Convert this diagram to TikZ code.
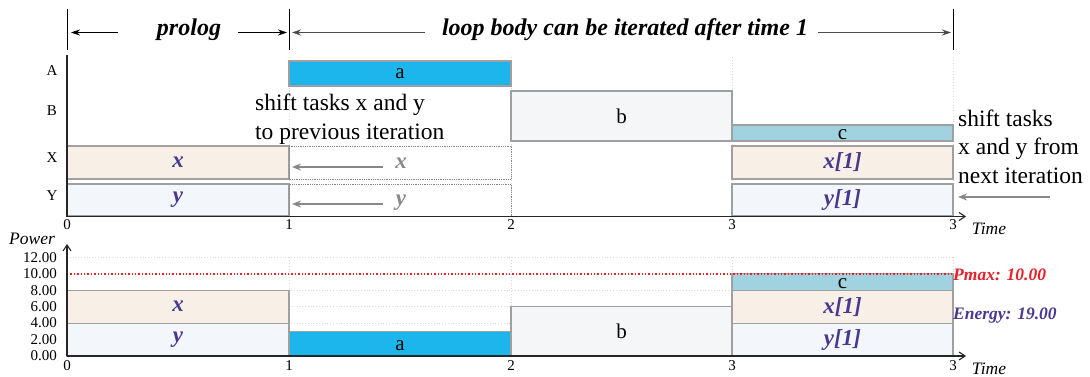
\documentclass[tikz,border=0pt]{standalone}
\usepackage{fontspec}
\setmainfont{Liberation Serif}
\usetikzlibrary{arrows.meta}
\definecolor{cA}{HTML}{1DB6EC}
\definecolor{cB}{HTML}{F5F6F8}
\definecolor{cC}{HTML}{A0D3DF}
\definecolor{cX}{HTML}{F8EFE6}
\definecolor{cY}{HTML}{F3F7FB}
\definecolor{edge}{HTML}{A0A0A0}
\definecolor{ink}{HTML}{4A3890}
\definecolor{shadow}{HTML}{888888}
\definecolor{pmaxred}{HTML}{E8202A}
\tikzset{
  taskbox/.style={draw=edge, line width=1.1pt},
  ghost/.style={draw=shadow, densely dotted, line width=0.8pt},
  grid line/.style={draw=black!15, dotted, line width=0.8pt},
  axis/.style={draw=black!85, line width=1.1pt},
  tick label/.style={font=\fontsize{15}{15}\selectfont, inner sep=0pt},
  row label/.style={font=\fontsize{15}{15}\selectfont, inner sep=0pt},
  axis title/.style={font=\fontsize{17.5}{17.5}\selectfont\itshape, inner sep=0pt},
  var label/.style={font=\fontsize{23}{23}\selectfont\bfseries\itshape, text=ink},
  task label/.style={font=\fontsize{21}{21}\selectfont},
  note/.style={font=\fontsize{23.5}{29}\selectfont, align=left, inner sep=0pt},
  span arrow/.style={-{Stealth[length=9pt,width=6pt]}, line width=0.9pt},
  shift arrow/.style={-{Stealth[length=9pt,width=7pt]}, draw=shadow, line width=1.8pt},
  head/.style={font=\fontsize{24}{24}\selectfont\bfseries\itshape},
  side label/.style={anchor=west, inner sep=0pt, font=\fontsize{17.5}{17.5}\selectfont\bfseries\itshape},
}
\begin{document}
\begin{tikzpicture}[x=1pt,y=-1pt]
\useasboundingbox (0,0) rectangle (1090,377);

% ---------- phase markers ----------
\foreach \xx in {67,289,953} \draw[line width=1pt] (\xx,9) -- (\xx,50);
\node[head] (prolog) at (189,30) {prolog};
\node[head] (loop) at (625,30) {loop body can be iterated after time 1};
\coordinate (p0) at (118,32.5); \coordinate (p1) at (71,32.5);
\coordinate (p2) at (238,32.5); \coordinate (p3) at (287,32.5);
\coordinate (l0) at (425,32.5); \coordinate (l1) at (292,32.5);
\coordinate (l2) at (818,32.5); \coordinate (l3) at (951,32.5);
\draw[span arrow] (p0) -- (p1);
\draw[span arrow] (p2) -- (p3);
\draw[span arrow, draw=black!70] (l0) -- (l1);
\draw[span arrow, draw=black!70] (l2) -- (l3);

% ---------- schedule chart ----------
\foreach \xx in {289,511,732,953} \draw[grid line] (\xx,57) -- (\xx,216);
\node[row label] (rA) at (52,71) {A};
\node[row label] (rB) at (52,111) {B};
\node[row label] (rX) at (52,158) {X};
\node[row label] (rY) at (52,196) {Y};

\path[taskbox, fill=cA] (289,61) rectangle (511,86) node[midway, task label] (ta) {a};
\path[taskbox, fill=cB] (511,91) rectangle (732,141) node[midway, task label] (tb) {b};
\path[taskbox, fill=cC] (732,125) rectangle (953,141) node[midway, task label, yshift=-2pt] (tc) {c};
\path[taskbox, fill=cX] (67,146) rectangle (289,179) node[midway, var label] (tx) {x};
\path[taskbox, fill=cY] (67,184) rectangle (289,216) node[midway, var label] (ty) {y};
\path[taskbox, fill=cX] (732,146) rectangle (953,179) node[midway, var label] (tx1) {x[1]};
\path[taskbox, fill=cY] (732,184) rectangle (953,216) node[midway, var label] (ty1) {y[1]};
\path[ghost] (289,146) rectangle (511,179);
\path[ghost] (289,184) rectangle (511,216);
\node[var label, text=shadow] (gx) at (401,163) {x};
\node[var label, text=shadow] (gy) at (401,203) {y};
\coordinate (gx0) at (383,167); \coordinate (gx1) at (292,167);
\coordinate (gy0) at (383,204); \coordinate (gy1) at (292,204);
\draw[shift arrow] (gx0) -- (gx1);
\draw[shift arrow] (gy0) -- (gy1);

% multi-line notes: the base anchor sits on the last line
\node[note, anchor=base west] (prev) at (255,140) {shift tasks x and y\\to previous iteration};
\node[note, anchor=base west, font=\fontsize{23.5}{28.5}\selectfont] (next) at (958,183) {shift tasks\\x and y from\\next iteration};
\coordinate (n0) at (1050,197); \coordinate (n1) at (958,197);
\draw[shift arrow] (n0) -- (n1);

\draw[axis] (67,55) -- (67,216.5);
\draw[axis, -{Straight Barb[length=6pt,width=8pt]}] (67,216.5) -- (966,216.5);
\foreach \xx/\lab in {67/0,289/1,511/2,732/3,953/3}
  \node[tick label] at (\xx,225) {\lab};
\node[axis title] (time1) at (989,229) {Time};

% ---------- power chart ----------
\foreach \yy in {257.4,290.2,306.7,323.1,339.6} \draw[grid line] (67,\yy) -- (953,\yy);
\foreach \xx in {289,511,732,953} \draw[grid line] (\xx,257.4) -- (\xx,356);

\path[taskbox, fill=cY] (67,323.1) rectangle (289,356) node[midway, var label] (py) {y};
\path[taskbox, fill=cX] (67,290.2) rectangle (289,323.1) node[midway, var label] (px) {x};
\path[taskbox, fill=cA] (289,331.3) rectangle (511,356) node[midway, task label, yshift=-2pt] (pa) {a};
\path[taskbox, fill=cB] (511,306.7) rectangle (732,356) node[midway, task label] (pb) {b};
\path[taskbox, fill=cY] (732,323.1) rectangle (953,356) node[midway, var label] (py1) {y[1]};
\path[taskbox, fill=cX] (732,290.2) rectangle (953,323.1) node[midway, var label] (px1) {x[1]};
\path[taskbox, fill=cC] (732,273.8) rectangle (953,290.2) node[midway, task label, yshift=-2pt] (pc) {c};

\draw[pmaxred, dotted, line width=1.4pt] (67,273.8) -- (953,273.8);
\node[side label, text=pmaxred] (pmax) at (953,274.5) {Pmax: 10.00};
\node[side label, text=ink] (energy) at (953,316) {Energy: 19.00};

\draw[axis, -{Straight Barb[length=6pt,width=8pt]}] (67,356) -- (67,244);
\draw[axis, -{Straight Barb[length=6pt,width=8pt]}] (67,356) -- (966,356);
\node[axis title] (power) at (32,239) {Power};
\foreach \yy/\lab in {257.4/12.00,273.8/10.00,290.2/8.00,306.7/6.00,323.1/4.00,339.6/2.00,356/0.00}
  \node[tick label, anchor=east] at (57,\yy) {\lab};
\foreach \xx/\lab in {67/0,289/1,511/2,732/3,953/3}
  \node[tick label] at (\xx,366) {\lab};
\node[axis title] (time2) at (989,369) {Time};
\end{tikzpicture}
\end{document}
